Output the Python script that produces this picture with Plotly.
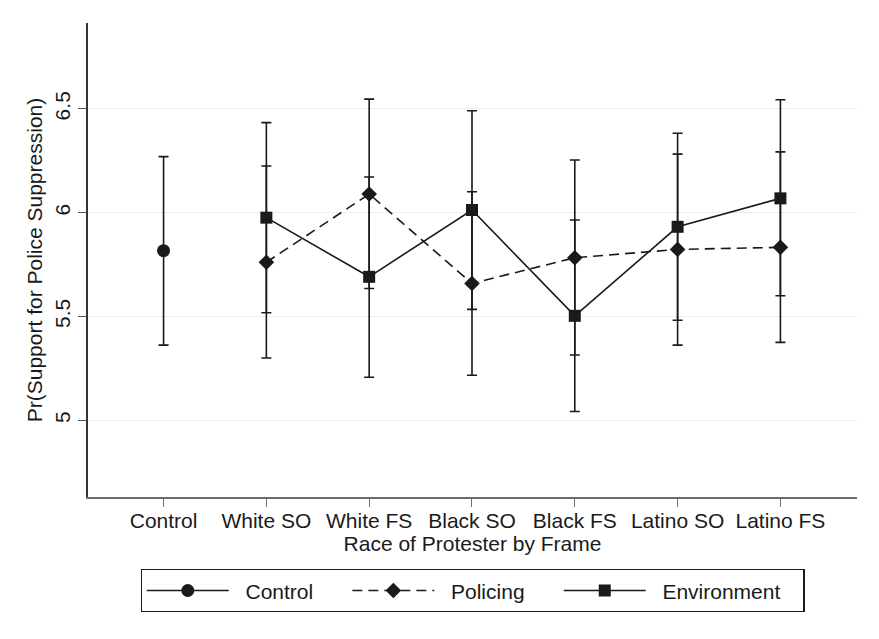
import plotly.graph_objects as go

categories = ["Control", "White SO", "White FS", "Black SO", "Black FS", "Latino SO", "Latino FS"]

control_x = ["Control"]
control_mean = [5.817]
control_lo = [5.362]
control_hi = [6.270]

treat_x = ["White SO", "White FS", "Black SO", "Black FS", "Latino SO", "Latino FS"]
policing_mean = [5.761, 6.090, 5.659, 5.783, 5.823, 5.833]
policing_lo = [5.300, 5.635, 5.217, 5.314, 5.362, 5.375]
policing_hi = [6.225, 6.547, 6.101, 6.254, 6.282, 6.293]

environment_mean = [5.976, 5.691, 6.013, 5.503, 5.932, 6.069]
environment_lo = [5.518, 5.207, 5.534, 5.042, 5.482, 5.600]
environment_hi = [6.434, 6.172, 6.491, 5.965, 6.383, 6.544]

y_ticks = [5, 5.5, 6, 6.5]
y_tick_text = ["5", "5.5", "6", "6.5"]

INK = "#1a1a1a"
FONT = "Liberation Sans, Arial, Helvetica, sans-serif"
FS = 21
NB = "\u00a0"


def err(mean, lo, hi):
    return dict(
        type="data",
        symmetric=False,
        array=[h - m for h, m in zip(hi, mean)],
        arrayminus=[m - l for m, l in zip(mean, lo)],
        color=INK,
        thickness=1.6,
        width=5,
    )


fig = go.Figure()

fig.add_trace(go.Scatter(
    x=control_x, y=control_mean, name=NB * 2 + "Control" + NB * 5,
    mode="lines+markers",
    line=dict(color=INK, width=1.6),
    marker=dict(symbol="circle", size=13, color=INK),
    error_y=err(control_mean, control_lo, control_hi),
))

fig.add_trace(go.Scatter(
    x=treat_x, y=policing_mean, name=NB * 2 + "Policing" + NB * 5,
    mode="lines+markers",
    line=dict(color=INK, width=1.6, dash="10px,6px"),
    marker=dict(symbol="diamond", size=12, color=INK),
    error_y=err(policing_mean, policing_lo, policing_hi),
))

fig.add_trace(go.Scatter(
    x=treat_x, y=environment_mean, name=NB * 2 + "Environment" + NB * 3,
    mode="lines+markers",
    line=dict(color=INK, width=1.6),
    marker=dict(symbol="square", size=12, color=INK),
    error_y=err(environment_mean, environment_lo, environment_hi),
))

fig.update_layout(
    width=871, height=631,
    margin=dict(l=80, r=22, t=15, b=142),
    paper_bgcolor="white",
    plot_bgcolor="white",
    font=dict(family=FONT, size=FS, color=INK),
    showlegend=True,
    legend=dict(
        orientation="h",
        x=0.5, xanchor="center",
        y=-0.152, yanchor="top",
        bordercolor=INK, borderwidth=1.3,
        bgcolor="white",
        font=dict(family=FONT, size=FS, color=INK),
        itemwidth=82,
    ),
)

fig.update_xaxes(
    type="category",
    categoryorder="array", categoryarray=categories,
    range=[-0.735, 6.745],
    showgrid=False, zeroline=False,
    showline=True, linecolor="#6e6e6e", linewidth=1.6,
    ticks="outside", ticklen=8, tickwidth=1.3, tickcolor="#6e6e6e",
    ticklabelstandoff=-4,
    tickfont=dict(family=FONT, size=FS, color=INK),
    title=dict(text="Race of Protester by Frame", standoff=2,
               font=dict(family=FONT, size=FS, color=INK)),
)

fig.update_yaxes(
    range=[4.63, 6.914],
    tickvals=y_ticks, ticktext=y_tick_text,
    tickangle=-90,
    showgrid=True, gridcolor="#e9f1f4", gridwidth=1.3,
    zeroline=False,
    showline=True, linecolor="#333333", linewidth=1.6,
    ticks="outside", ticklen=8, tickwidth=1.3, tickcolor="#555555",
    tickfont=dict(family=FONT, size=FS, color=INK),
    title=dict(text="Pr(Support for Police Suppression)", standoff=2,
               font=dict(family=FONT, size=FS, color=INK)),
)

fig.write_html("out.html")
